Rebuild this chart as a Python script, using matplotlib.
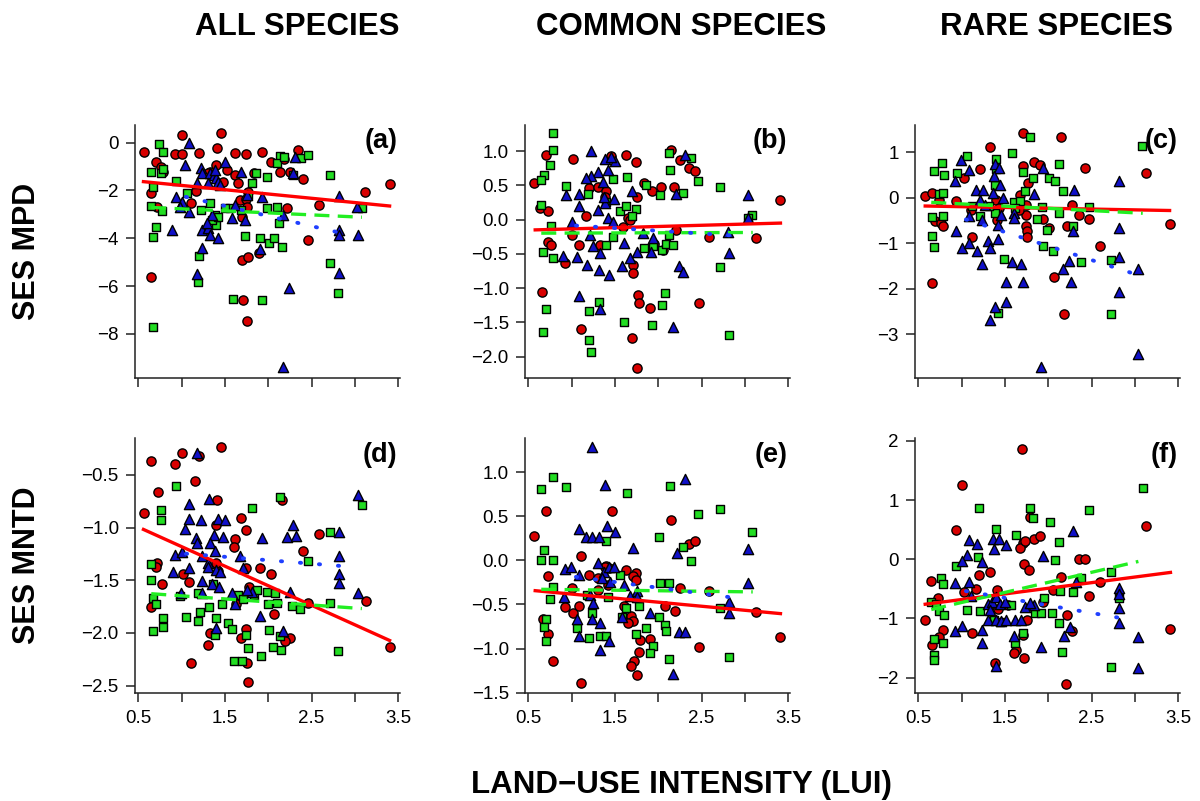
import matplotlib
matplotlib.use("Agg")
import matplotlib.pyplot as plt
import numpy as np

plt.rcParams['font.family'] = ['Liberation Sans', 'DejaVu Sans']

# ---------------- data (x = LUI, y = SES value) ----------------
a_red = [(0.57,-0.38),(1.01,0.32),(1.45,0.39),(0.70,-0.79),(0.92,-0.49),(1.01,-0.49),(1.20,-0.42),(1.41,-0.24),(1.62,-0.45),(1.74,-0.49),(1.93,-0.40),(2.03,-0.79),(2.18,-0.68),(2.34,-0.31),(0.76,-1.00),(0.78,-1.21),(1.33,-1.21),(1.40,-0.93),(1.52,-1.14),(1.62,-1.35),(1.65,-1.70),(1.83,-1.28),(1.77,-2.05),(2.13,-1.21),(2.25,-1.21),(2.40,-1.53),(0.65,-2.09),(0.72,-2.71),(1.11,-2.51),(1.17,-2.01),(1.67,-2.40),(1.74,-2.37),(1.76,-2.68),(1.70,-3.10),(2.22,-2.75),(2.59,-2.61),(3.12,-2.08),(3.40,-1.73),(2.46,-4.07),(0.65,-5.61),(1.70,-4.91),(1.77,-4.80),(1.89,-4.63),(1.71,-6.58),(1.75,-7.46),(1.31,-1.28),(1.48,-1.63)]
a_green = [(0.74,-0.06),(0.78,-0.40),(0.65,-1.21),(0.76,-1.28),(0.78,-1.12),(0.93,-1.60),(0.67,-1.84),(0.65,-2.65),(0.77,-2.85),(1.06,-2.09),(1.22,-2.82),(0.70,-3.51),(0.67,-3.93),(1.20,-4.74),(1.19,-5.84),(0.67,-7.70),(1.59,-6.56),(1.93,-6.58),(1.33,-2.54),(1.38,-3.03),(1.40,-3.44),(1.35,-3.24),(1.42,-3.10),(1.56,-2.75),(1.69,-2.82),(1.81,-1.70),(1.86,-1.28),(1.98,-1.42),(2.13,-0.54),(2.10,-0.86),(2.18,-0.59),(2.38,-0.63),(2.46,-0.52),(2.29,-1.35),(2.71,-1.35),(1.98,-2.75),(2.10,-2.68),(2.12,-3.38),(1.91,-4.00),(2.01,-4.18),(2.07,-4.00),(2.16,-4.38),(1.73,-3.89),(2.71,-5.02),(2.81,-6.30),(3.08,-2.75),(1.50,-2.75),(1.77,-2.19)]
a_blue = [(1.08,0.00),(1.04,-0.93),(1.22,-1.07),(1.23,-1.26),(1.33,-1.28),(1.37,-1.35),(1.40,-1.49),(1.42,-1.63),(1.50,-0.79),(1.38,-1.14),(1.18,-1.70),(1.31,-1.70),(0.93,-2.26),(1.00,-2.47),(1.08,-2.89),(0.98,-2.71),(0.89,-3.65),(1.23,-3.65),(1.31,-3.58),(1.33,-3.86),(1.42,-4.00),(1.35,-3.03),(1.58,-3.17),(1.62,-2.61),(1.69,-1.21),(1.75,-2.19),(1.73,-3.24),(1.93,-2.26),(1.90,-4.46),(1.24,-4.42),(1.18,-5.50),(2.24,-6.09),(2.31,-0.59),(2.29,-1.28),(2.17,-3.03),(2.82,-2.23),(2.82,-3.65),(2.82,-3.86),(3.03,-3.86),(2.82,-5.44),(2.17,-9.40),(3.02,-2.71),(1.29,-3.38),(1.44,-1.77)]

b_red = [(0.57,0.53),(0.70,0.94),(1.02,0.88),(1.46,0.93),(1.63,0.94),(1.74,0.84),(2.15,1.02),(2.25,0.87),(2.35,0.75),(2.42,0.71),(0.64,0.17),(0.73,0.12),(1.20,0.46),(1.31,0.48),(1.40,0.42),(1.17,0.05),(1.08,-0.37),(0.73,-0.32),(0.76,-0.37),(0.92,-0.63),(1.00,-0.22),(1.33,-0.37),(1.65,0.02),(1.75,0.33),(1.83,0.53),(1.93,0.42),(2.03,0.47),(2.18,0.48),(1.59,-0.11),(1.71,-0.66),(1.71,-0.78),(1.77,-1.10),(1.78,-1.22),(1.90,-1.29),(1.70,-1.73),(1.75,-2.17),(1.11,-1.59),(0.66,-1.05),(2.47,-1.21),(2.59,-0.25),(3.13,-0.27),(3.40,0.29),(2.06,-0.44),(2.21,-0.15),(1.95,-0.35),(1.67,-0.01),(1.38,0.33)]
b_green = [(0.78,1.26),(0.78,1.01),(0.75,0.79),(0.68,0.65),(0.65,0.58),(0.94,0.49),(0.65,0.21),(0.76,-0.09),(0.67,-0.47),(0.78,-0.56),(1.19,0.37),(1.40,0.26),(1.48,0.59),(1.64,0.62),(1.56,0.13),(1.63,0.20),(1.74,0.16),(1.70,0.05),(1.86,0.50),(2.02,0.36),(2.12,0.97),(2.13,0.72),(2.38,0.90),(2.29,0.39),(2.46,0.56),(2.71,0.48),(3.08,0.07),(1.40,-0.37),(1.83,-0.42),(1.94,-0.39),(2.04,-0.44),(2.09,-0.36),(2.17,-0.37),(2.12,-0.22),(1.32,-1.20),(1.20,-1.33),(0.70,-1.31),(0.67,-1.64),(1.20,-1.76),(1.22,-1.93),(1.60,-1.50),(1.93,-1.54),(2.04,-1.24),(2.08,-1.07),(2.71,-0.69),(2.82,-1.68),(3.04,0.02),(1.48,-0.25)]
b_blue = [(1.22,1.00),(1.38,0.88),(1.50,0.86),(1.45,0.91),(1.31,0.69),(1.22,0.63),(1.17,0.60),(1.42,0.72),(1.36,0.55),(0.93,0.36),(1.08,0.37),(1.08,0.20),(1.31,0.14),(1.38,0.24),(1.42,0.02),(1.48,-0.03),(1.49,0.30),(1.37,0.33),(1.00,-0.03),(0.90,-0.53),(1.06,-0.54),(1.18,-0.66),(1.25,-0.39),(1.33,-0.49),(1.32,-0.73),(1.43,-0.81),(1.58,-0.67),(1.67,-0.56),(1.75,-0.47),(1.82,-0.20),(1.92,-0.47),(1.94,-0.27),(1.70,0.42),(2.21,0.37),(2.31,0.94),(2.24,-0.67),(2.29,-0.77),(2.17,-1.57),(1.08,-1.12),(1.33,-1.30),(2.81,-0.18),(2.82,-0.49),(3.03,0.36),(3.03,0.02),(1.60,-0.34),(1.21,-0.22)]

c_red = [(0.58,0.05),(0.66,0.10),(0.74,-0.05),(0.69,-0.51),(0.76,-0.56),(0.78,-0.62),(0.66,-1.87),(0.93,-0.07),(1.03,0.43),(1.21,0.63),(1.33,1.12),(1.11,-0.27),(1.12,-0.87),(1.40,-0.05),(1.43,-0.23),(1.41,-0.49),(1.71,1.42),(1.71,0.69),(1.67,0.06),(1.77,0.32),(1.74,-0.16),(1.74,-0.38),(1.74,-0.62),(1.75,-0.74),(1.75,-0.87),(1.83,0.78),(1.90,0.72),(1.94,-0.46),(2.01,-0.67),(2.15,1.33),(2.07,-1.74),(2.22,-0.63),(2.27,-0.16),(2.35,-0.38),(2.42,0.65),(2.47,-0.47),(2.60,-1.06),(2.18,-2.56),(3.13,0.54),(3.40,-0.58),(1.66,-0.27)]
c_green = [(0.77,0.76),(0.68,0.59),(0.80,0.50),(0.74,0.08),(0.78,0.10),(0.66,-0.43),(0.78,-0.40),(0.66,-0.85),(0.68,-1.09),(0.95,0.54),(1.06,0.92),(1.40,0.85),(1.40,0.63),(1.38,0.28),(1.38,-0.34),(1.32,-0.18),(1.58,0.99),(1.60,-0.10),(1.71,0.56),(1.73,0.14),(1.82,0.44),(1.79,1.34),(1.67,-0.08),(1.62,-0.23),(1.87,-0.47),(1.93,-0.21),(1.99,-0.70),(1.94,-1.07),(2.05,-1.17),(2.01,0.43),(2.08,0.36),(2.12,0.74),(2.17,0.14),(2.12,-0.34),(2.28,-0.61),(2.38,-1.40),(2.47,-0.21),(2.72,-1.36),(2.72,-2.56),(3.08,1.14),(1.49,-1.34),(1.42,-2.53),(1.21,-0.40),(1.12,-0.18)]
c_blue = [(0.99,0.83),(1.08,0.61),(0.92,0.38),(1.17,0.17),(1.25,0.17),(1.36,0.11),(1.21,-0.05),(1.27,-0.16),(1.08,-0.41),(1.24,-0.49),(1.38,0.74),(1.43,0.65),(1.37,0.47),(1.44,0.28),(1.48,-0.01),(1.45,-0.38),(1.42,-0.59),(1.31,-0.96),(1.33,-1.11),(1.42,-0.90),(0.93,-0.74),(1.00,-1.11),(1.09,-1.00),(1.18,-1.17),(1.24,-1.46),(1.60,-0.34),(1.61,-0.45),(1.58,-1.40),(1.69,-1.45),(1.51,-1.85),(1.71,-1.85),(1.51,-2.28),(1.39,-2.39),(1.33,-2.68),(1.94,0.65),(1.83,0.09),(2.29,-0.74),(2.30,0.17),(2.24,-1.38),(2.17,-1.56),(2.26,-1.85),(2.82,0.36),(2.82,-0.67),(2.82,-1.29),(2.82,-2.07),(3.03,-1.56),(3.03,-3.43),(1.92,-3.72)]

d_red = [(0.57,-0.86),(0.65,-0.37),(0.73,-0.66),(0.92,-0.40),(1.01,-0.29),(1.16,-0.56),(1.20,-0.32),(1.46,-0.24),(1.41,-0.74),(1.40,-0.98),(1.68,-0.91),(1.74,-1.02),(1.62,-1.11),(1.60,-1.18),(0.72,-1.34),(0.70,-1.37),(0.77,-1.54),(1.02,-1.44),(1.08,-1.52),(0.65,-1.75),(1.42,-1.41),(1.74,-1.38),(1.90,-1.38),(2.03,-1.44),(1.78,-1.56),(2.40,-1.22),(2.59,-1.06),(3.13,-1.70),(3.40,-2.13),(2.46,-1.72),(2.07,-1.82),(1.33,-2.00),(1.30,-2.11),(1.69,-2.05),(1.74,-1.96),(1.75,-2.29),(1.11,-2.29),(1.77,-2.47),(2.25,-2.05),(2.19,-2.08),(1.63,-1.73),(2.16,-0.74),(1.40,-1.34)]
d_green = [(0.93,-0.61),(0.76,-0.83),(0.76,-0.93),(0.65,-1.35),(0.65,-1.50),(0.67,-1.67),(0.70,-1.73),(0.67,-1.98),(0.78,-1.86),(0.78,-1.94),(1.05,-1.85),(1.21,-1.80),(1.19,-1.89),(1.40,-1.86),(1.38,-2.02),(1.32,-1.75),(1.19,-1.62),(1.36,-1.54),(1.47,-1.73),(1.54,-1.91),(1.58,-1.96),(1.60,-2.27),(1.70,-2.27),(1.74,-2.02),(1.77,-2.14),(1.65,-1.64),(1.83,-1.64),(1.87,-1.59),(1.98,-1.61),(2.08,-1.62),(2.00,-1.73),(2.10,-1.72),(2.01,-1.97),(2.13,-2.03),(2.05,-2.13),(2.15,-2.16),(1.92,-2.22),(2.27,-1.74),(2.37,-1.77),(2.46,-1.32),(2.71,-1.04),(2.71,-1.72),(2.81,-2.17),(3.08,-0.79),(2.13,-0.71),(1.81,-0.81),(0.98,-1.65),(1.71,-1.68)]
d_blue = [(1.18,-0.29),(1.08,-0.78),(1.08,-0.92),(1.04,-1.01),(1.22,-0.93),(1.32,-0.73),(1.42,-0.92),(1.50,-0.93),(1.37,-1.07),(1.17,-1.10),(1.18,-1.15),(1.33,-1.15),(1.38,-1.22),(1.48,-1.09),(0.92,-1.26),(1.00,-1.23),(0.90,-1.42),(1.08,-1.38),(1.24,-1.27),(1.30,-1.34),(1.31,-1.37),(1.40,-1.40),(1.44,-1.42),(1.23,-1.51),(1.23,-1.62),(1.35,-1.54),(1.43,-1.56),(0.99,-1.62),(1.67,-1.27),(1.71,-1.38),(1.81,-1.61),(1.93,-1.10),(1.90,-1.84),(1.58,-1.62),(1.62,-1.73),(2.25,-1.61),(2.22,-1.09),(2.29,-0.98),(2.32,-1.08),(2.17,-1.98),(1.40,-1.95),(2.82,-1.04),(2.82,-1.27),(2.82,-1.44),(2.82,-1.53),(3.03,-0.69),(3.03,-1.62),(1.75,-1.59)]

e_red = [(0.57,0.28),(0.70,0.56),(0.73,-0.18),(1.11,0.05),(1.20,-0.17),(1.47,0.56),(1.40,-0.06),(1.43,-0.09),(2.15,0.46),(2.35,0.19),(2.42,0.22),(1.01,-0.31),(0.92,-0.53),(1.02,-0.60),(1.08,-0.52),(1.31,-0.20),(0.67,-0.66),(0.73,-0.84),(0.78,-1.14),(1.11,-1.39),(1.63,-0.11),(1.74,-0.14),(1.71,-0.18),(1.74,-0.22),(1.60,-0.52),(1.69,-0.63),(1.71,-0.69),(1.79,-0.90),(1.78,-1.04),(1.72,-1.14),(1.69,-1.20),(1.75,-1.30),(1.90,-0.89),(2.08,-0.52),(2.19,-0.57),(2.25,-0.31),(2.47,-0.98),(2.59,-0.35),(3.13,-0.59),(3.40,-0.87),(1.42,-0.28),(1.30,-0.33),(1.38,-0.07),(1.65,-0.71)]
e_green = [(0.65,0.81),(0.78,0.95),(0.94,0.83),(0.68,0.12),(0.65,0.00),(0.79,0.01),(0.78,-0.30),(0.75,-0.44),(0.70,-0.67),(0.68,-0.76),(0.71,-0.91),(1.06,-0.77),(1.20,-0.88),(1.33,-0.86),(1.40,-0.86),(1.40,0.22),(1.64,0.76),(1.56,-0.17),(1.63,-0.54),(1.58,-0.64),(1.74,-0.83),(1.86,-0.77),(1.94,-0.97),(1.90,-1.05),(2.01,0.27),(2.02,-0.26),(2.12,-0.26),(2.13,0.84),(2.28,0.15),(2.38,-0.01),(2.46,0.53),(2.71,0.58),(3.08,0.32),(2.01,-0.64),(2.08,-0.73),(2.09,-0.80),(2.12,-1.12),(1.78,-0.52),(2.71,-0.54),(2.82,-1.10),(1.18,-0.39),(1.23,-0.60),(1.42,-0.41)]
e_blue = [(1.24,1.29),(1.38,0.86),(2.31,0.93),(1.08,0.36),(1.17,0.27),(1.24,0.27),(1.32,0.27),(1.41,0.39),(1.50,0.32),(1.31,-0.03),(1.37,-0.13),(1.43,-0.07),(1.49,-0.07),(1.35,-0.20),(1.44,-0.24),(0.92,-0.10),(0.99,-0.07),(1.08,-0.17),(0.91,-0.41),(1.21,-0.39),(1.25,-0.48),(1.06,-0.67),(1.23,-0.67),(1.33,-0.71),(1.08,-0.86),(1.43,-0.92),(1.33,-1.02),(1.71,0.14),(1.61,-0.28),(1.67,-0.40),(1.58,-0.64),(1.90,-0.60),(2.22,0.08),(2.17,-1.29),(2.24,-0.81),(2.31,-0.81),(2.82,-0.47),(2.82,-0.60),(3.03,0.13),(3.03,-0.26),(1.75,-0.35),(1.76,-0.41)]

f_red = [(1.70,1.87),(1.01,1.26),(0.93,0.49),(1.20,-0.26),(1.33,-0.21),(0.65,-0.36),(1.03,-0.55),(1.17,-0.50),(1.41,-0.52),(0.73,-0.66),(0.58,-1.02),(0.78,-1.20),(0.74,-1.32),(0.66,-1.45),(1.12,-1.24),(1.38,-1.75),(1.42,-0.84),(1.71,0.27),(1.67,0.19),(1.83,0.35),(1.90,0.39),(1.73,0.31),(1.79,0.72),(1.72,-0.08),(1.78,-0.18),(1.94,-0.73),(2.05,-0.52),(2.15,-0.30),(2.22,-0.94),(2.27,-1.22),(2.35,0.00),(2.42,0.00),(2.47,-0.62),(2.60,-0.38),(1.71,-1.28),(1.63,-1.53),(1.60,-1.58),(1.72,-1.66),(2.20,-2.10),(3.13,0.56),(3.40,-1.17),(1.75,-1.03),(1.54,-0.77)]
f_green = [(1.20,0.86),(1.79,0.86),(1.82,0.70),(2.02,0.63),(2.47,0.83),(3.09,1.20),(1.40,0.52),(1.63,0.41),(2.12,0.29),(2.08,-0.01),(2.38,-0.31),(2.72,-0.21),(0.93,-0.12),(0.76,-0.31),(0.78,-0.41),(1.19,0.04),(2.29,-0.55),(2.13,-0.54),(1.95,-0.66),(1.57,-0.77),(2.04,-0.91),(1.85,-0.91),(1.92,-0.91),(2.12,-1.07),(0.65,-0.72),(0.70,-0.75),(0.74,-0.87),(0.80,-0.94),(1.06,-0.86),(1.21,-0.87),(0.68,-1.35),(0.79,-1.42),(0.68,-1.62),(0.68,-1.70),(1.62,-1.42),(1.71,-1.25),(2.16,-1.56),(2.72,-1.82),(2.82,-0.66),(1.37,-1.03),(1.44,-1.06)]
f_blue = [(1.08,0.32),(1.18,0.26),(1.06,0.08),(1.00,-0.03),(1.24,-0.04),(1.37,0.18),(1.36,0.35),(1.43,0.35),(1.51,0.24),(2.29,0.47),(1.94,0.05),(0.92,-0.40),(1.08,-0.39),(0.92,-1.21),(1.01,-1.12),(1.24,-1.20),(1.24,-1.41),(1.11,-0.62),(1.31,-0.75),(1.35,-0.72),(1.40,-0.63),(1.44,-0.75),(1.50,-0.73),(1.33,-0.86),(1.31,-1.03),(1.40,-1.03),(1.45,-1.04),(1.51,-1.03),(1.62,-1.03),(1.69,-1.02),(1.73,-0.80),(1.83,-0.77),(1.40,-1.80),(1.60,-1.30),(1.92,-1.49),(2.25,-1.15),(2.18,-1.30),(2.82,-0.49),(2.82,-0.58),(2.82,-0.83),(2.82,-1.07),(3.03,-1.32),(3.03,-1.84),(2.32,-0.38),(1.79,-0.74)]

# fitted regression lines: (intercept, slope, x_start, x_end) for red, green, blue
a_fits = [(-1.43, -0.359, 0.56, 3.40), (-2.60, -0.169, 0.65, 3.08), (-1.38, -0.845, 1.05, 2.92)]
b_fits = [(-0.17, 0.035, 0.58, 3.41), (-0.20, 0.004, 0.65, 3.09), (-0.003, -0.08, 1.05, 2.94)]
c_fits = [(-0.16, -0.035, 0.58, 3.40), (-0.036, -0.098, 0.65, 3.09), (0.17, -0.615, 1.05, 3.03)]
d_fits = [(-0.81, -0.371, 0.56, 3.40), (-1.59, -0.058, 0.65, 3.08), (-1.18, -0.065, 1.05, 2.93)]
e_fits = [(-0.29, -0.092, 0.58, 3.41), (-0.32, -0.012, 0.65, 3.09), (-0.05, -0.13, 1.05, 2.93)]
f_fits = [(-0.87, 0.19, 0.58, 3.41), (-1.07, 0.34, 0.65, 3.04), (-0.27, -0.255, 1.05, 2.92)]

col_titles = ["ALL SPECIES", "COMMON SPECIES", "RARE SPECIES"]
row_labels = ["SES MPD", "SES MNTD"]
panel_tags = ["(a)", "(b)", "(c)", "(d)", "(e)", "(f)"]
x_ticks = [0.5, 1.0, 1.5, 2.0, 2.5, 3.0, 3.5]
x_ticklabels = ["0.5", "", "1.5", "", "2.5", "", "3.5"]
y_ticks = {
    "a": [0, -2, -4, -6, -8],
    "b": [1.0, 0.5, 0.0, -0.5, -1.0, -1.5, -2.0],
    "c": [1, 0, -1, -2, -3],
    "d": [-0.5, -1.0, -1.5, -2.0, -2.5],
    "e": [1.0, 0.5, 0.0, -0.5, -1.0, -1.5],
    "f": [2, 1, 0, -1, -2],
}
y_fmt = {"a": "{:.0f}", "b": "{:.1f}", "c": "{:.0f}", "d": "{:.1f}", "e": "{:.1f}", "f": "{:.0f}"}
y_lims = {"a": (-9.85, 0.74), "b": (-2.31, 1.38), "c": (-3.96, 1.60),
          "d": (-2.57, -0.15), "e": (-1.505, 1.39), "f": (-2.26, 2.05)}

panels = {
    "a": (a_red, a_green, a_blue, a_fits),
    "b": (b_red, b_green, b_blue, b_fits),
    "c": (c_red, c_green, c_blue, c_fits),
    "d": (d_red, d_green, d_blue, d_fits),
    "e": (e_red, e_green, e_blue, e_fits),
    "f": (f_red, f_green, f_blue, f_fits),
}

# ---------------- styling ----------------
RED_FILL, GREEN_FILL, BLUE_FILL = "#D80000", "#22DD22", "#1010C8"
RED_LINE, GREEN_LINE, BLUE_LINE = "#FF0000", "#22EE22", "#2040FF"

W, H = 1200, 801
fig = plt.figure(figsize=(W / 100, H / 100), dpi=100)

col_left = [134.8, 524.8, 914.8]
ax_w = 265.2
rows = [(125, 378), (438, 693)]

def fmt_label(fmt, v):
    s = fmt.format(v)
    if s.startswith("-"):
        s = "\u2212" + s[1:]
    if s == "\u22120" or s == "\u22120.0":
        s = s[1:]
    return s

keys = ["a", "b", "c", "d", "e", "f"]
for idx, key in enumerate(keys):
    r, c = divmod(idx, 3)
    top, bot = rows[r]
    ax = fig.add_axes([col_left[c] / W, 1 - bot / H, ax_w / W, (bot - top) / H])
    red, green, blue, fits = panels[key]
    for pts, marker, fill, size in ((red, "o", RED_FILL, 44),
                                     (green, "s", GREEN_FILL, 36),
                                     (blue, "^", BLUE_FILL, 54)):
        arr = np.array(pts)
        ax.scatter(arr[:, 0], arr[:, 1], marker=marker, s=size, c=fill,
                   edgecolors="black", linewidths=1.0, zorder=3)
    styles = [(RED_LINE, "-"), (GREEN_LINE, (0, (4.5, 2.5))), (BLUE_LINE, (0, (0.3, 4.6)))]
    for (b0, b1, x0, x1), (col, ls) in zip(fits, styles):
        xs = np.array([x0, x1])
        lw = 2.8 if col == BLUE_LINE else 2.4
        ln, = ax.plot(xs, b0 + b1 * xs, color=col, linestyle=ls, lw=lw, zorder=4)
        if col == BLUE_LINE:
            ln.set_dash_capstyle("round")
    ax.set_xlim(0.46, 3.52)
    ax.set_ylim(*y_lims[key])
    ax.set_xticks(x_ticks)
    ax.set_xticklabels(x_ticklabels if r == 1 else [""] * len(x_ticks))
    ax.set_yticks(y_ticks[key])
    ax.set_yticklabels([fmt_label(y_fmt[key], v) for v in y_ticks[key]])
    for s in ("top", "right"):
        ax.spines[s].set_visible(False)
    for s in ("left", "bottom"):
        ax.spines[s].set_linewidth(1.1)
        ax.spines[s].set_color("#222222")
    ax.tick_params(axis="both", direction="out", length=6.5, width=1.1,
                   color="#222222", labelsize=13.5, pad=5)
    ax.tick_params(axis="x", pad=6)
    ax.text(0.99, 0.935, panel_tags[idx], transform=ax.transAxes, ha="right",
            va="center", fontsize=19.5, fontweight="bold", zorder=5)

title_x = [297, 681, 1056]
for tx, t in zip(title_x, col_titles):
    fig.text(tx / W, 1 - 35 / H, t, ha="center", va="baseline",
             fontsize=22.5, fontweight="bold")

for (top, bot), lab in zip(rows, row_labels):
    fig.text(27 / W, 1 - (top + bot) / 2 / H, lab, rotation=90, ha="center",
             va="center", fontsize=22, fontweight="bold")

fig.text(681 / W, 1 - 793 / H, "LAND\u2212USE INTENSITY (LUI)", ha="center",
         va="baseline", fontsize=22.5, fontweight="bold")

fig.savefig("out.png", dpi=100)
